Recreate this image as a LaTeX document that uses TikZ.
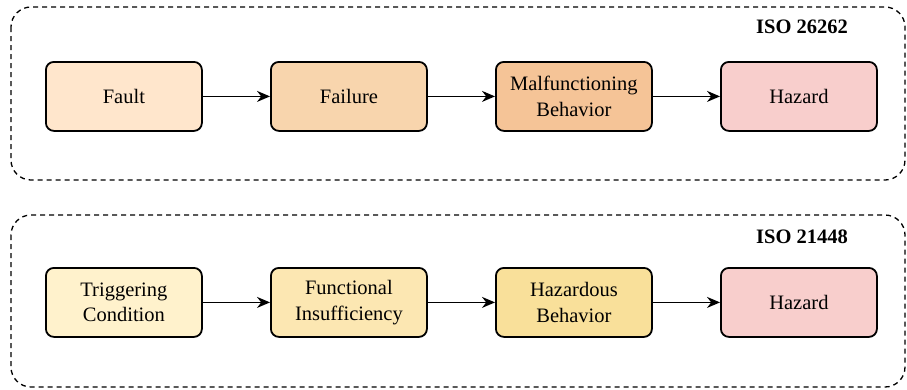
\documentclass[tikz,border=0pt]{standalone}
\usepackage{fontspec}
\setmainfont{Liberation Serif}
\usetikzlibrary{arrows.meta}
\definecolor{faultfill}{HTML}{FFE6CC}
\definecolor{failfill}{HTML}{F8D5AD}
\definecolor{malfill}{HTML}{F5C497}
\definecolor{hazfill}{HTML}{F8CECC}
\definecolor{trigfill}{HTML}{FFF2CC}
\definecolor{funcfill}{HTML}{FCE7B2}
\definecolor{hbfill}{HTML}{F9E09A}
\tikzset{
  stagebox/.style={draw=black, line width=1.8pt, rounded corners=8pt,
    minimum width=156pt, minimum height=69pt, inner sep=0pt,
    align=center, font=\fontsize{20.5}{25.5}\selectfont, anchor=north west},
  groupframe/.style={draw=black, line width=1.3pt, dash pattern=on 5pt off 4pt, rounded corners=20pt},
  flow/.style={-{Stealth[length=13pt,width=11pt]}, line width=1.6pt},
  stdlabel/.style={font=\fontsize{20.5}{24}\selectfont\bfseries}
}
\begin{document}
\begin{tikzpicture}[x=1pt,y=-1pt]
  \useasboundingbox (0,0) rectangle (907,389);
  % group frames
  \draw[groupframe] (11,7) rectangle (905,180);
  \draw[groupframe] (11,215) rectangle (905,387);
  \node[stdlabel] (lbltop) at (802,27) {ISO 26262};
  \node[stdlabel] (lblbot) at (802,237) {ISO 21448};
  % ISO 26262 chain
  \node[stagebox, fill=faultfill] (fault) at (45,61) {Fault};
  \node[stagebox, fill=failfill] (failure) at (270,61) {Failure};
  \node[stagebox, fill=malfill] (malf) at (495,61) {Malfunctioning\\Behavior};
  \node[stagebox, fill=hazfill] (haz1) at (720,61) {Hazard};
  \draw[flow] (fault) -- (failure);
  \draw[flow] (failure) -- (malf);
  \draw[flow] (malf) -- (haz1);
  % ISO 21448 chain
  \node[stagebox, fill=trigfill] (trig) at (45,267) {Triggering\\Condition};
  \node[stagebox, fill=funcfill] (func) at (270,267) {Functional\\Insufficiency};
  \node[stagebox, fill=hbfill] (hbeh) at (495,267) {Hazardous\\Behavior};
  \node[stagebox, fill=hazfill] (haz2) at (720,267) {Hazard};
  \draw[flow] (trig) -- (func);
  \draw[flow] (func) -- (hbeh);
  \draw[flow] (hbeh) -- (haz2);
\end{tikzpicture}
\end{document}
